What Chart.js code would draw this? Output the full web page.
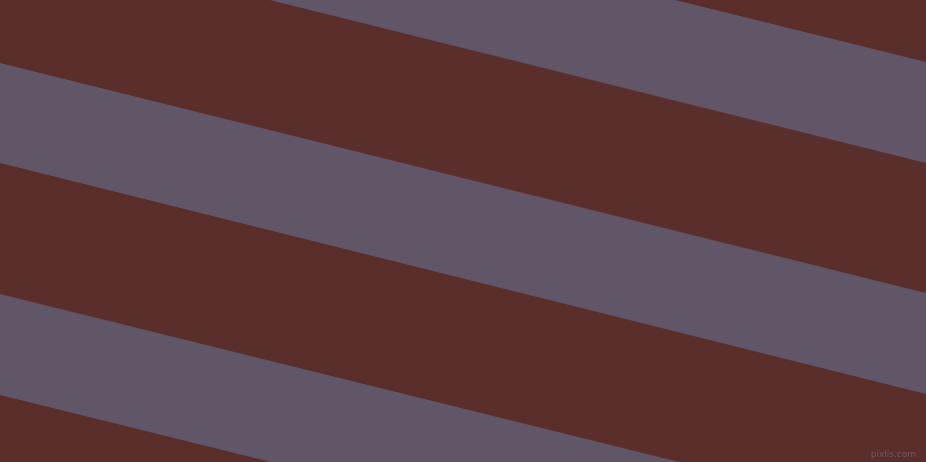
<!DOCTYPE html>
<html>
<head>
<meta charset="utf-8">
<script src="https://cdn.jsdelivr.net/npm/chart.js@4"></script>
<style>
  html, body { margin: 0; padding: 0; background: #592e2b; overflow: hidden; }
  #wrap { position: relative; width: 926px; height: 462px; }
  #mark { position: absolute; right: 10px; bottom: 3px; font: 9px "DejaVu Sans", sans-serif; color: #6e5a66; }
</style>
</head>
<body>
<div id="wrap">
  <canvas id="grafico"></canvas>
  <div id="mark">pixlis.com</div>
</div>
<script>
// x positions of the two edges
const xEdges = [0, 926];
// gray stripe boundaries (y at left edge, y at right edge)
const stripeTops = [[-167, 62], [63, 293], [294, 523]];
const stripeBottoms = [[-67, 163], [163, 394], [395, 624]];

const brown = '#592e2b';
const gray = '#605668';

const datasets = [];
stripeTops.forEach((top, i) => {
  const bottom = stripeBottoms[i];
  datasets.push({
    data: xEdges.map((x, j) => ({ x: x, y: top[j] })),
    borderWidth: 0,
    pointRadius: 0,
    fill: false
  });
  datasets.push({
    data: xEdges.map((x, j) => ({ x: x, y: bottom[j] })),
    borderWidth: 0,
    pointRadius: 0,
    backgroundColor: gray,
    fill: '-1'
  });
});

const ctx = document.getElementById('grafico').getContext('2d');
new Chart(ctx, {
  type: 'line',
  data: { datasets: datasets },
  options: {
    responsive: true,
    maintainAspectRatio: false,
    animation: false,
    layout: { padding: 0 },
    plugins: { legend: { display: false }, tooltip: { enabled: false } },
    scales: {
      x: { type: 'linear', min: 0, max: 926, display: false },
      y: { type: 'linear', min: 0, max: 462, reverse: true, display: false }
    }
  }
});
</script>
</body>
</html>
